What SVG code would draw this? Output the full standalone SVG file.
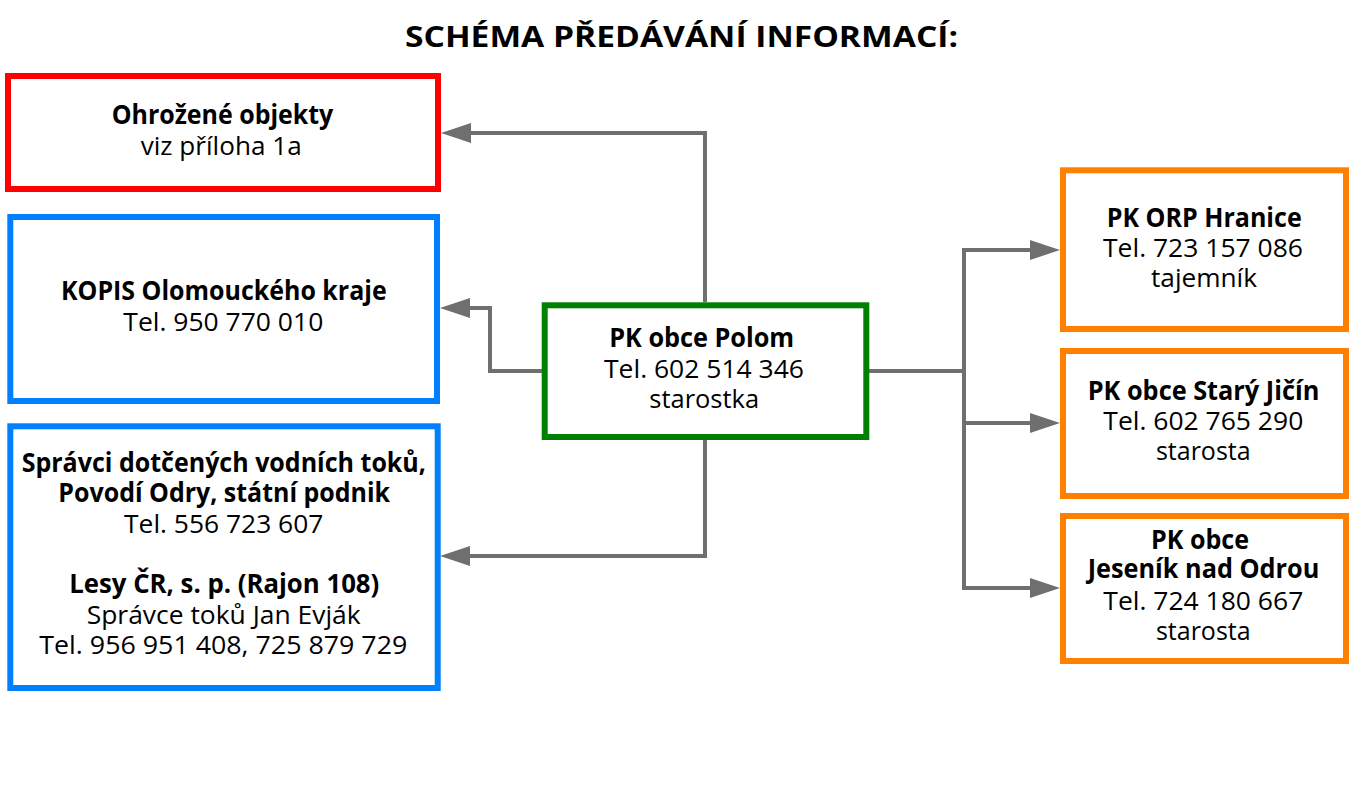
<svg xmlns="http://www.w3.org/2000/svg" width="1360" height="787" viewBox="0 0 1360 787">
<style>
text{font-family:"Open Sans","Noto Sans","Liberation Sans",sans-serif;font-size:26px;fill:#000;text-anchor:middle}
.b{font-weight:bold}
.box{fill:#fff;stroke-width:6}
.red{stroke:#ff0000}
.blue{stroke:#0080ff}
.green{stroke:#008000}
.orange{stroke:#ff8000}
.con{fill:none;stroke:#6f6f6f;stroke-width:4;stroke-linejoin:miter}
</style>
<defs>
<marker id="arr" markerUnits="userSpaceOnUse" markerWidth="30" markerHeight="20" refX="0" refY="10" orient="auto" overflow="visible">
<path d="M0,0 L30,10 L0,20 Z" fill="#6f6f6f"/>
</marker>
</defs>
<rect width="1360" height="787" fill="#fff"/>
<text x="681.5" y="47" class="b" style="font-size:29px" textLength="553" lengthAdjust="spacingAndGlyphs">SCHÉMA PŘEDÁVÁNÍ INFORMACÍ:</text>

<g id="connectors">
<path class="con" d="M705,302 V133 H471" marker-end="url(#arr)"/>
<path class="con" d="M542,371 H490 V308 H470" marker-end="url(#arr)"/>
<path class="con" d="M705,440 V556 H470" marker-end="url(#arr)"/>
<path class="con" d="M869,371 H964"/>
<path class="con" d="M964,248 V590"/>
<path class="con" d="M962,250 H1030" marker-end="url(#arr)"/>
<path class="con" d="M964,423 H1030" marker-end="url(#arr)"/>
<path class="con" d="M962,588 H1030" marker-end="url(#arr)"/>
</g>

<g id="ohrozene">
<rect class="box red" x="8" y="76" width="430" height="113"/>
<text x="222.5" y="124" class="b" textLength="221.6" lengthAdjust="spacingAndGlyphs">Ohrožené objekty</text>
<text x="221.2" y="155" textLength="161" lengthAdjust="spacingAndGlyphs">viz příloha 1a</text>
</g>

<g id="kopis">
<rect class="box blue" x="10.3" y="217" width="426.7" height="184"/>
<text x="223.8" y="300" class="b" textLength="325.7" lengthAdjust="spacingAndGlyphs">KOPIS Olomouckého kraje</text>
<text x="223.3" y="330.7" textLength="200" lengthAdjust="spacingAndGlyphs">Tel. 950 770 010</text>
</g>

<g id="spravci">
<rect class="box blue" x="10.3" y="426.3" width="427.4" height="261.7"/>
<text x="223.8" y="471.7" class="b" textLength="404.3" lengthAdjust="spacingAndGlyphs">Správci dotčených vodních toků,</text>
<text x="224.2" y="502.3" class="b" textLength="331.7" lengthAdjust="spacingAndGlyphs">Povodí Odry, státní podnik</text>
<text x="223.7" y="533.3" textLength="199.3" lengthAdjust="spacingAndGlyphs">Tel. 556 723 607</text>
<text x="224.3" y="593.3" class="b" textLength="310" lengthAdjust="spacingAndGlyphs">Lesy ČR, s. p. (Rajon 108)</text>
<text x="223.7" y="624.3" textLength="274" lengthAdjust="spacingAndGlyphs">Správce toků Jan Evják</text>
<text x="223.3" y="654.3" textLength="368" lengthAdjust="spacingAndGlyphs">Tel. 956 951 408, 725 879 729</text>
</g>

<g id="polom">
<rect class="box green" x="544.7" y="305.3" width="321.6" height="131.7"/>
<text x="701.7" y="346.7" class="b" textLength="185" lengthAdjust="spacingAndGlyphs">PK obce Polom</text>
<text x="704" y="378.3" textLength="200" lengthAdjust="spacingAndGlyphs">Tel. 602 514 346</text>
<text x="704.2" y="408.3" textLength="109.7" lengthAdjust="spacingAndGlyphs">starostka</text>
</g>

<g id="hranice">
<rect class="box orange" x="1063" y="170.3" width="283" height="158.7"/>
<text x="1204.2" y="226.7" class="b" textLength="195" lengthAdjust="spacingAndGlyphs">PK ORP Hranice</text>
<text x="1203" y="256.7" textLength="200" lengthAdjust="spacingAndGlyphs">Tel. 723 157 086</text>
<text x="1204" y="286.7" textLength="106" lengthAdjust="spacingAndGlyphs">tajemník</text>
</g>

<g id="stary-jicin">
<rect class="box orange" x="1063" y="351" width="283" height="145"/>
<text x="1203.5" y="400" class="b" textLength="231.6" lengthAdjust="spacingAndGlyphs">PK obce Starý Jičín</text>
<text x="1203.3" y="430" textLength="200" lengthAdjust="spacingAndGlyphs">Tel. 602 765 290</text>
<text x="1203.3" y="460" textLength="94.7" lengthAdjust="spacingAndGlyphs">starosta</text>
</g>

<g id="jesenik">
<rect class="box orange" x="1063" y="516" width="283" height="145"/>
<text x="1200" y="549.3" class="b" textLength="98" lengthAdjust="spacingAndGlyphs">PK obce</text>
<text x="1203.5" y="578.3" class="b" textLength="231.6" lengthAdjust="spacingAndGlyphs">Jeseník nad Odrou</text>
<text x="1203.3" y="610" textLength="200" lengthAdjust="spacingAndGlyphs">Tel. 724 180 667</text>
<text x="1203.3" y="640" textLength="94.7" lengthAdjust="spacingAndGlyphs">starosta</text>
</g>
</svg>
